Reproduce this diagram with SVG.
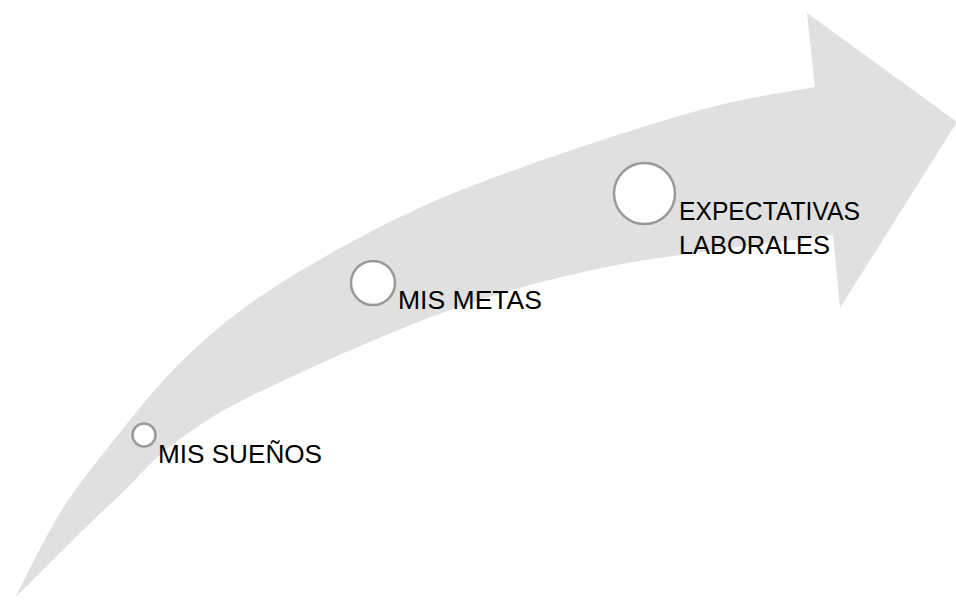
<svg xmlns="http://www.w3.org/2000/svg" width="956" height="600" viewBox="0 0 956 600">
  <style>
    .arrow { fill: #e0e0e0; stroke: none; }
    .dot { fill: #ffffff; stroke: #999999; stroke-width: 2.5; }
    .lbl { font-family: "Liberation Sans", Arial, sans-serif; font-size: 26px; fill: #000000; }
  </style>
  <g id="arrow">
    <path class="arrow" d="M15,598 C22.5,583.8 44.2,538.5 60,513 C75.8,487.5 89.5,470.5 110,445 C130.5,419.5 156.3,385.8 183,360 C209.7,334.2 233.8,313.8 270,290 C306.2,266.2 357.8,237.5 400,217 C442.2,196.5 473,184.8 523,167 C573,149.2 651.3,123.3 700,110 C748.7,96.7 795.8,90.8 815,87 L807,13 L957,122 L840,308 L833,235 C807.5,238.3 717.7,249.7 680,255 C642.3,260.3 633.2,261.7 607,267 C580.8,272.3 549.2,279.8 523,287 C496.8,294.2 476,300.7 450,310 C424,319.3 392,332.5 367,343 C342,353.5 320.7,363.5 300,373 C279.3,382.5 259.7,391.3 243,400 C226.3,408.7 213.8,415.8 200,425 C186.2,434.2 172.5,444.2 160,455 C147.5,465.8 137.8,477.5 125,490 C112.2,502.5 101.3,512 83,530 C64.7,548 26.3,586.7 15,598 Z"/>
  </g>
  <g id="node-suenos">
    <circle class="dot" cx="144" cy="435" r="11.5"/>
    <text class="lbl" x="158" y="463" textLength="164" lengthAdjust="spacingAndGlyphs">MIS SUEÑOS</text>
  </g>
  <g id="node-metas">
    <circle class="dot" cx="373" cy="283" r="22"/>
    <text class="lbl" x="398" y="309" textLength="144" lengthAdjust="spacingAndGlyphs">MIS METAS</text>
  </g>
  <g id="node-expectativas">
    <circle class="dot" cx="644.5" cy="193.5" r="30.5"/>
    <text class="lbl" x="679" y="220" textLength="181" lengthAdjust="spacingAndGlyphs">EXPECTATIVAS</text>
    <text class="lbl" x="679" y="254" textLength="151" lengthAdjust="spacingAndGlyphs">LABORALES</text>
  </g>
  <g id="connectors"></g>
</svg>
